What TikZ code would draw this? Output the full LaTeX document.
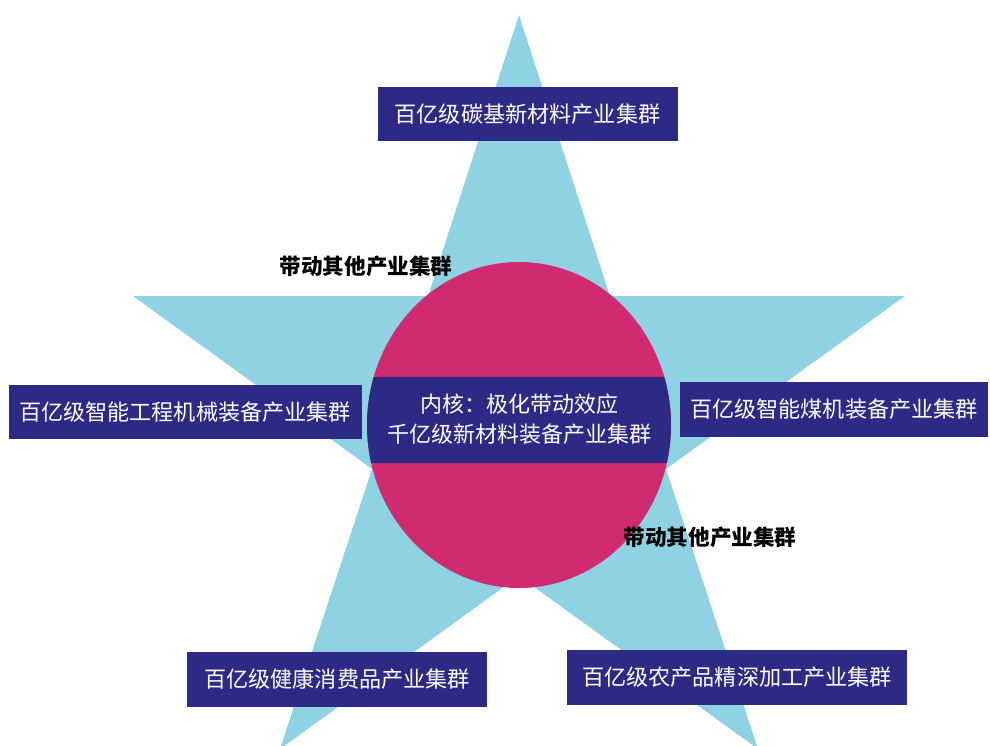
\documentclass[tikz,border=0pt]{standalone}
\usepackage{fontspec}
\newfontfamily\cjk{Noto Sans CJK SC}
\definecolor{starblue}{RGB}{142,210,228}
\definecolor{corepink}{RGB}{208,42,112}
\definecolor{boxblue}{RGB}{44,42,132}
\tikzset{
  cluster/.style={fill=boxblue, text=white, font=\cjk\fontsize{16.6}{16.6}\selectfont, inner sep=0pt, minimum height=41pt},
  drivelabel/.style={text=black, font=\cjk\bfseries\fontsize{16.2}{16.2}\selectfont, inner sep=0pt}
}
\begin{document}
\begin{tikzpicture}[x=0.75pt,y=-0.75pt]

                \useasboundingbox (0,0) rectangle (990,746);
                \clip (0,0) rectangle (990,746);
                \fill [color=starblue] (519,15)--(610,296)--(905,296)--(666,469)--(758,749)--(519,576)--(280,749)--(372,469)--(133,296)--(428,296)--cycle;
                \fill [color=corepink] (519,425) ellipse [x radius=152, y radius=163];
                \begin{scope}
                  \clip (519,425) ellipse [x radius=152, y radius=163];
                  \fill [color=boxblue] (360,377) rectangle (680,463);
                \end{scope}
                \node [text=white, font=\cjk\fontsize{16.5}{22.5}\selectfont, align=center, inner sep=0pt] (core) at (519,419) {内核：极化带动效应\\千亿级新材料装备产业集群};

                \node [cluster, minimum width=225pt] (carbon) at (527.5,114) {百亿级碳基新材料产业集群};
                \node [cluster, minimum width=264.75pt] (machinery) at (185,412) {百亿级智能工程机械装备产业集群};
                \node [cluster, minimum width=231pt] (coal) at (834,409.5) {百亿级智能煤机装备产业集群};
                \node [cluster, minimum width=225pt] (health) at (337,679.5) {百亿级健康消费品产业集群};
                \node [cluster, minimum width=255pt] (agri) at (737,677.5) {百亿级农产品精深加工产业集群};

                \node [drivelabel] (driveup) at (366,266) {带动其他产业集群};
                \node [drivelabel] (drivedown) at (710,537) {带动其他产业集群};
\end{tikzpicture}
\end{document}
